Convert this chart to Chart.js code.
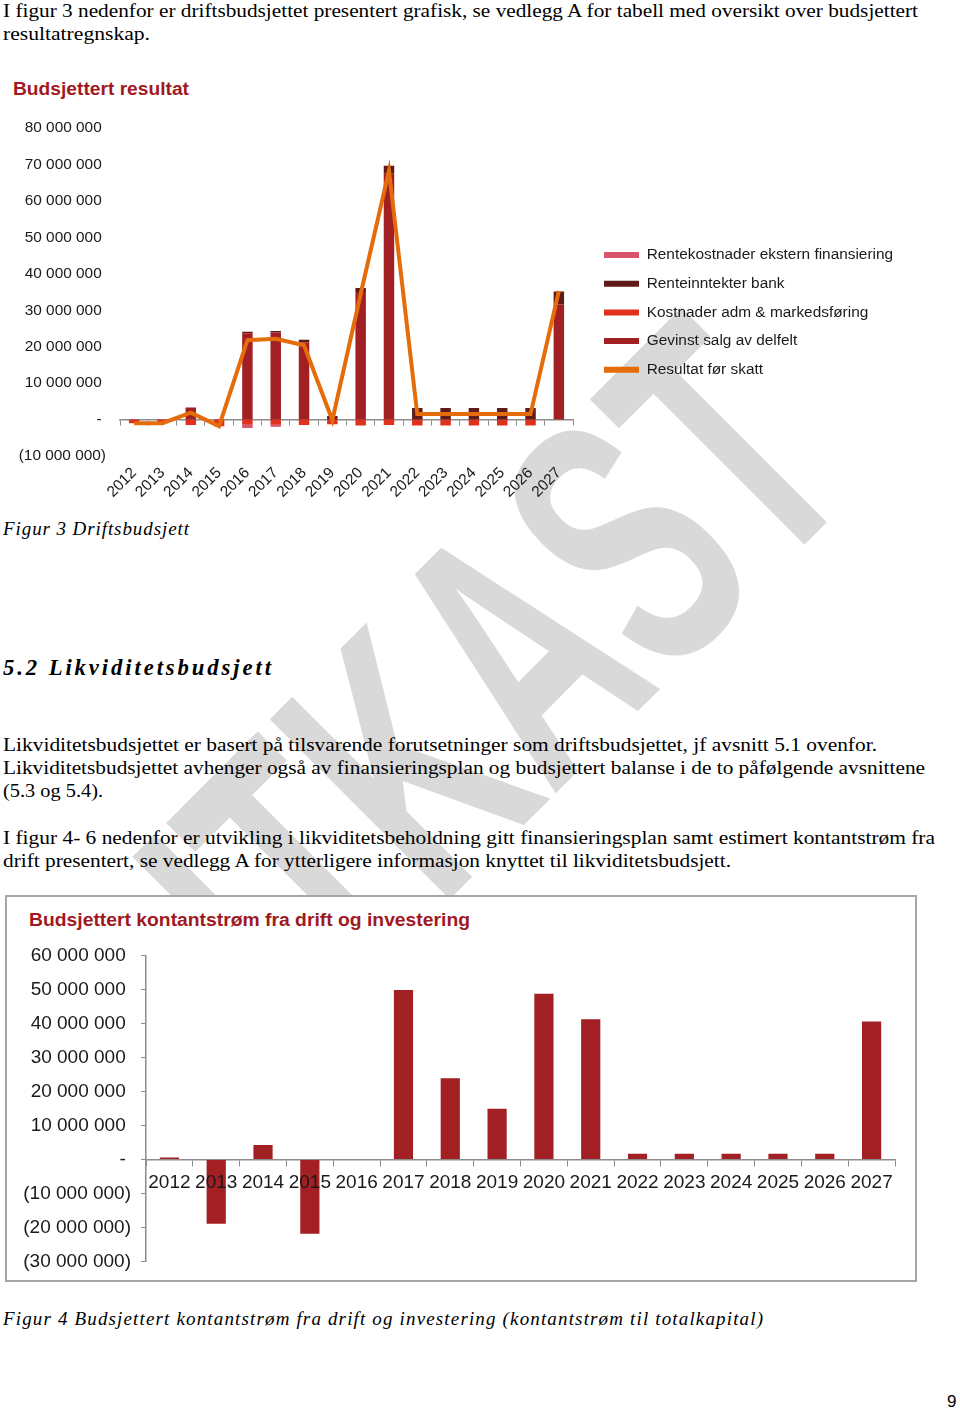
<!DOCTYPE html>
<html>
<head>
<meta charset="utf-8">
<script src="https://cdn.jsdelivr.net/npm/chart.js@4.4.1/dist/chart.umd.min.js"></script>
<style>
html,body{margin:0;padding:0;background:#fff;}
#page{position:relative;width:960px;height:1410px;overflow:hidden;background:#fff;}
.t{position:absolute;white-space:nowrap;line-height:1;transform-origin:0 0;color:#000;z-index:2;}
.serif{font-family:"Liberation Serif","Times New Roman",serif;font-size:19px;}
.it{font-style:italic;}
.bi{font-style:italic;font-weight:bold;font-size:22.7px;}
.ctitle{font-family:"Liberation Sans",Arial,sans-serif;font-weight:bold;font-size:18px;color:#A0191F;}
#wm{position:absolute;left:457px;top:711px;font:bold 370px "Liberation Sans",Arial,sans-serif;line-height:1;color:#d9d9d9;white-space:nowrap;transform:translate(-50%,-50%) rotate(-45deg) scale(0.595,1);z-index:0;}
#box2{position:absolute;left:5px;top:895px;width:912px;height:387px;border:2px solid #a6a6a6;background:#fff;box-sizing:border-box;z-index:1;}
canvas{position:absolute;z-index:3;}
#c1{left:0;top:105px;}
#c2{left:0;top:934px;}
</style>
</head>
<body>
<div id="page">
  <div id="wm">UTKAST</div>

  <div class="t serif fit" data-w="915" data-mode="sx" style="left:3px;top:1px;">I figur 3 nedenfor er driftsbudsjettet presentert grafisk, se vedlegg A for tabell med oversikt over budsjettert</div>
  <div class="t serif fit" data-w="147" data-mode="sx" style="left:3px;top:24px;">resultatregnskap.</div>

  <div class="t ctitle fit" data-w="176" data-mode="sx" style="left:13px;top:80px;">Budsjettert resultat</div>

  <div class="t serif it fit" data-w="186" data-mode="ls" style="left:3px;top:519px;">Figur 3 Driftsbudsjett</div>

  <div class="t serif bi fit" data-w="268" data-mode="ls" style="left:3px;top:657px;">5.2 Likviditetsbudsjett</div>

  <div class="t serif fit" data-w="874" data-mode="sx" style="left:3px;top:735px;">Likviditetsbudsjettet er basert på tilsvarende forutsetninger som driftsbudsjettet, jf avsnitt 5.1 ovenfor.</div>
  <div class="t serif fit" data-w="922" data-mode="sx" style="left:3px;top:758px;">Likviditetsbudsjettet avhenger også av finansieringsplan og budsjettert balanse i de to påfølgende avsnittene</div>
  <div class="t serif fit" data-w="100" data-mode="sx" style="left:3px;top:781px;">(5.3 og 5.4).</div>

  <div class="t serif fit" data-w="932" data-mode="sx" style="left:3px;top:828px;">I figur 4- 6 nedenfor er utvikling i likviditetsbeholdning gitt finansieringsplan samt estimert kontantstrøm fra</div>
  <div class="t serif fit" data-w="728" data-mode="sx" style="left:3px;top:851px;">drift presentert, se vedlegg A for ytterligere informasjon knyttet til likviditetsbudsjett.</div>

  <div id="box2"></div>
  <div class="t ctitle fit" data-w="441" data-mode="sx" style="left:29px;top:911px;">Budsjettert kontantstrøm fra drift og investering</div>

  <div class="t serif it fit" data-w="760" data-mode="ls" style="left:3px;top:1309px;">Figur 4 Budsjettert kontantstrøm fra drift og investering (kontantstrøm til totalkapital)</div>

  <div class="t" style="left:947px;top:1393px;font-family:'Liberation Sans',Arial,sans-serif;font-size:17px;">9</div>

  <canvas id="c1" width="930" height="404"></canvas>
  <canvas id="c2" width="930" height="349"></canvas>
</div>

<script>
// ---------- DATA ----------
const years = ['2012','2013','2014','2015','2016','2017','2018','2019','2020','2021','2022','2023','2024','2025','2026','2027'];

// Figur 3 – Budsjettert resultat (NOK)
const gevinstSalgDelfelt   = [0, 0, 3300000, 0, 23700000, 23900000, 21200000, 0, 35000000, 67500000, 0, 0, 0, 0, 0, 31600000];
const renteinntekterBank   = [0, 0, 0, 0, 400000, 400000, 700000, 1000000, 1100000, 2200000, 3200000, 3200000, 3200000, 3200000, 3200000, 3600000];
const kostnaderAdmMarked   = [-1000000, -1000000, -1500000, -1800000, -1200000, -1400000, -1500000, -1300000, -1600000, -1500000, -1600000, -1600000, -1600000, -1600000, -1600000, 0];
const rentekostnaderEkstern= [0, 0, 0, 0, -1100000, -600000, 0, 0, 0, 0, 0, 0, 0, 0, 0, 0];
const resultatForSkatt     = [-1000000, -1000000, 1900000, -1800000, 21800000, 22200000, 20400000, -200000, 34500000, 68300000, 1500000, 1500000, 1500000, 1500000, 1500000, 35300000];

// Figur 4 – Budsjettert kontantstrøm fra drift og investering (NOK)
const kontantstrom = [600000, -18900000, 4300000, -21800000, 0, 49800000, 23900000, 14900000, 48700000, 41200000, 1700000, 1700000, 1700000, 1700000, 1700000, 40600000];

// Axis ranges / tick steps
const resultatAxis = {min: -10000000, max: 80000000, step: 10000000};
const kontantAxis  = {min: -30000000, max: 60000000, step: 10000000};

const legendNames = {
  gevinst: 'Gevinst salg av delfelt',
  renteinn: 'Renteinntekter bank',
  kostnader: 'Kostnader adm & markedsføring',
  rentekost: 'Rentekostnader ekstern finansiering',
  resultat: 'Resultat før skatt'
};
// ---------- END DATA ----------

// fit text lines to their widths
document.querySelectorAll('.fit').forEach(el => {
  const target = parseFloat(el.dataset.w);
  const nat = el.getBoundingClientRect().width;
  if (el.dataset.mode === 'ls') {
    const n = el.textContent.length;
    el.style.letterSpacing = ((target - nat) / (n - 1)) + 'px';
  } else {
    el.style.transform = 'scaleX(' + (target / nat) + ')';
  }
});

function fmtNok(v) {
  if (v === 0) return '- ';
  const s = String(Math.abs(v)).replace(/\B(?=(\d{3})+(?!\d))/g, ' ');
  return v < 0 ? '(' + s + ')' : s + ' ';
}

Chart.defaults.font.family = '"Liberation Sans", Arial, sans-serif';
Chart.defaults.color = '#1a1a1a';

const C_GEVINST = '#A21F24';
const C_RENTEINN = '#5E1B1A';
const C_KOSTN = '#E0301E';
const C_RENTEK = '#D9536B';
const C_RES = '#E46C0A';
const AXIS_GRAY = '#8c8c8c';

const legendPlace = {
  id: 'legendPlace',
  afterLayout(chart, args, opts) {
    const lg = chart.legend;
    if (!lg || opts.left == null) return;
    const h = lg.height;
    lg.left = opts.left; lg.right = opts.left + opts.width; lg.width = opts.width;
    lg.top = opts.top; lg.bottom = opts.top + h;
  }
};

const legendRank = [3, 1, 2, 0, 4]; // by dataset index

new Chart(document.getElementById('c1'), {
  type: 'bar',
  data: {
    labels: years,
    datasets: [
      {label: legendNames.gevinst, data: gevinstSalgDelfelt, backgroundColor: C_GEVINST, stack: 's', borderWidth: 0},
      {label: legendNames.renteinn, data: renteinntekterBank, backgroundColor: C_RENTEINN, stack: 's', borderWidth: 0},
      {label: legendNames.kostnader, data: kostnaderAdmMarked, backgroundColor: C_KOSTN, stack: 's', borderWidth: 0},
      {label: legendNames.rentekost, data: rentekostnaderEkstern, backgroundColor: C_RENTEK, stack: 's', borderWidth: 0},
      {type: 'line', label: legendNames.resultat, data: resultatForSkatt, borderColor: C_RES, backgroundColor: C_RES,
       borderWidth: 4, pointRadius: 0, tension: 0, stack: 'line', order: -1, borderJoinStyle: 'miter'}
    ]
  },
  options: {
    responsive: false,
    animation: false,
    devicePixelRatio: 1,
    layout: {padding: {top: 0, right: 107, bottom: 0, left: 0}},
    datasets: {bar: {barPercentage: 0.37, categoryPercentage: 1.0}},
    plugins: {
      tooltip: {enabled: false},
      legend: {
        position: 'right',
        align: 'start',
        maxWidth: 250,
        labels: {
          boxWidth: 35, boxHeight: 6, padding: 13.3,
          font: {size: 15.4}, color: '#1a1a1a',
          sort: (a, b) => legendRank[a.datasetIndex] - legendRank[b.datasetIndex],
          generateLabels(chart) {
            const items = Chart.defaults.plugins.legend.labels.generateLabels(chart);
            items.forEach(it => { it.lineWidth = 0; it.strokeStyle = 'rgba(0,0,0,0)'; });
            return items;
          }
        }
      },
      legendPlace: {left: 590.7, top: 129, width: 335}
    },
    scales: {
      x: {
        stacked: true,
        grid: {display: false, drawTicks: false},
        border: {display: false},
        ticks: {autoSkip: false, maxRotation: 45, minRotation: 45, padding: 8, font: {size: 15.4}, color: '#1a1a1a'},
        afterFit(s) { s.height = 53; }
      },
      x2: {
        type: 'category', axis: 'x', position: {y: 0}, offset: true,
        grid: {display: true, drawOnChartArea: false, drawTicks: true, tickLength: 5, offset: true, color: AXIS_GRAY, lineWidth: 1},
        border: {display: true, color: AXIS_GRAY, width: 1.5},
        ticks: {display: false},
        afterFit(s) { s.height = 0; }
      },
      y: {
        stacked: true,
        min: resultatAxis.min, max: resultatAxis.max,
        grid: {display: false, drawTicks: false},
        border: {display: false},
        ticks: {stepSize: resultatAxis.step, padding: 14, font: {size: 15.4}, color: '#1a1a1a', callback: v => fmtNok(v)},
        afterFit(s) { s.width = 120; }
      }
    }
  },
  plugins: [legendPlace]
});

new Chart(document.getElementById('c2'), {
  type: 'bar',
  data: {
    labels: years,
    datasets: [
      {label: 'Kontantstrøm fra drift og investering', data: kontantstrom, backgroundColor: C_GEVINST, borderWidth: 0}
    ]
  },
  options: {
    responsive: false,
    animation: false,
    devicePixelRatio: 1,
    layout: {padding: {top: 0, right: 35, bottom: 0, left: 0}},
    datasets: {bar: {barPercentage: 0.41, categoryPercentage: 1.0}},
    plugins: {legend: {display: false}, tooltip: {enabled: false}},
    scales: {
      x: {
        position: {y: 0},
        grid: {display: true, drawOnChartArea: false, drawTicks: true, tickLength: 6, offset: true, color: AXIS_GRAY},
        border: {display: true, color: AXIS_GRAY, width: 1.5},
        ticks: {z: 1, autoSkip: false, maxRotation: 0, minRotation: 0, padding: 6, font: {size: 19}, color: '#1a1a1a'},
        afterFit(s) { s.height = 0; }
      },
      y: {
        min: kontantAxis.min, max: kontantAxis.max,
        grid: {display: true, drawOnChartArea: false, drawTicks: true, tickLength: 5, color: AXIS_GRAY},
        border: {display: true, color: AXIS_GRAY, width: 1.5},
        ticks: {stepSize: kontantAxis.step, padding: 10, font: {size: 19}, color: '#1a1a1a', callback: v => fmtNok(v)},
        afterFit(s) { s.width = 146; }
      }
    }
  }
});
</script>
</body>
</html>
